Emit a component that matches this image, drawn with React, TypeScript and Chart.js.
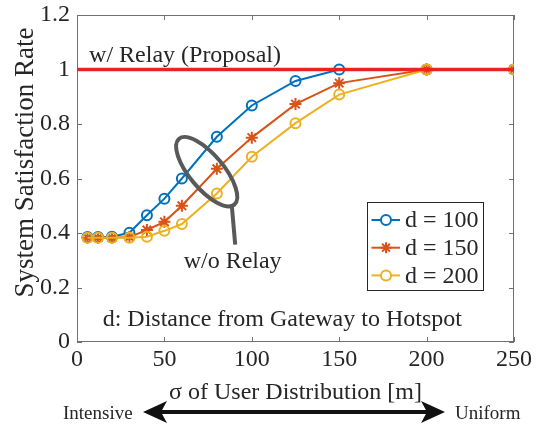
import React, { useEffect, useRef } from "react";
import { Chart, registerables } from "chart.js";

Chart.register(...registerables);

// ---------- data ----------
const sigma = [6, 12, 20, 30, 40, 50, 60, 80, 100, 125, 150, 200, 250];
const rateD100 = [0.385, 0.385, 0.386, 0.401, 0.465, 0.526, 0.6, 0.753, 0.868, 0.958, 1.0, 1.0, 1.0];
const rateD150 = [0.383, 0.383, 0.383, 0.385, 0.411, 0.441, 0.5, 0.636, 0.75, 0.873, 0.95, 1.0, 1.0];
const rateD200 = [0.383, 0.383, 0.383, 0.383, 0.386, 0.408, 0.433, 0.545, 0.68, 0.803, 0.908, 1.0, 1.0];
const relaySigma = [0, 250];
const relayRate = [1, 1];
const seriesLabels = ["d = 100", "d = 150", "d = 200"];
const xTicks = [0, 50, 100, 150, 200, 250];
const yTicks = [0, 0.2, 0.4, 0.6, 0.8, 1, 1.2];
const yTickLabels = ["0", "0.2", "0.4", "0.6", "0.8", "1", "1.2"];
const xTitle = "σ of User Distribution [m]";
const yTitle = "System Satisfaction Rate";
const relayText = "w/ Relay (Proposal)";
const noRelayText = "w/o Relay";
const noteText = "d: Distance from Gateway to Hotspot";
const leftArrowText = "Intensive";
const rightArrowText = "Uniform";

// ---------- styles ----------
const FONT = "'Liberation Serif', 'Times New Roman', serif";
const TEXT = "#262626";
const AXIS = "#707070";
const BLUE = "#0072BD";
const ORANGE = "#D95319";
const YELLOW = "#EDB120";
const RED = "#EE2020";
const GRAYMARK = "#595959";

const toPts = (xs: number[], ys: number[]) => xs.map((x, i) => ({ x, y: ys[i] }));

const decorPlugin = {
  id: "decor",
  beforeDatasetsDraw(chart: any) {
    const { ctx, chartArea: a, scales } = chart;
    ctx.save();
    ctx.strokeStyle = AXIS;
    ctx.lineWidth = 1;
    ctx.strokeRect(a.left + 0.5, a.top + 0.5, a.right - a.left - 1, a.bottom - a.top - 1);
    const tl = 5;
    ctx.beginPath();
    for (const v of xTicks) {
      const px = Math.round(scales.x.getPixelForValue(v)) + 0.5;
      ctx.moveTo(px, a.bottom);
      ctx.lineTo(px, a.bottom - tl);
      ctx.moveTo(px, a.top);
      ctx.lineTo(px, a.top + tl);
    }
    for (const v of yTicks) {
      const py = Math.round(scales.y.getPixelForValue(v)) + 0.5;
      ctx.moveTo(a.left, py);
      ctx.lineTo(a.left + tl, py);
      ctx.moveTo(a.right, py);
      ctx.lineTo(a.right - tl, py);
    }
    ctx.stroke();
    // y axis title
    ctx.fillStyle = TEXT;
    ctx.font = `27px ${FONT}`;
    ctx.textAlign = "center";
    ctx.textBaseline = "middle";
    ctx.translate(26, (a.top + a.bottom) / 2 - 16);
    ctx.rotate(-Math.PI / 2);
    ctx.fillText(yTitle, 0, 0);
    ctx.restore();
  },
  afterDatasetsDraw(chart: any) {
    const { ctx, scales } = chart;
    const X = (v: number) => scales.x.getPixelForValue(v);
    const Y = (v: number) => scales.y.getPixelForValue(v);
    ctx.save();
    ctx.fillStyle = TEXT;
    ctx.font = `24px ${FONT}`;
    ctx.textBaseline = "alphabetic";
    ctx.textAlign = "left";
    ctx.fillText(relayText, X(6.9), Y(1.028));
    ctx.fillText(noRelayText, X(61), Y(0.27));
    ctx.fillText(noteText, X(14.7), Y(0.059));

    // ellipse + pointer
    const cx = X(74.2);
    const cy = Y(0.625);
    ctx.strokeStyle = GRAYMARK;
    ctx.lineWidth = 4;
    ctx.beginPath();
    ctx.ellipse(cx, cy, 43, 17, (50 * Math.PI) / 180, 0, Math.PI * 2);
    ctx.stroke();
    ctx.beginPath();
    ctx.moveTo(cx + 25, cy + 33);
    ctx.lineTo(cx + 28.5, cy + 73);
    ctx.stroke();
    ctx.restore();
  },
  afterDraw(chart: any) {
    const { ctx, chartArea: a, data } = chart;
    ctx.save();
    // legend box
    const bw = 116;
    const bh = 88;
    const bx = a.right - 31 - bw;
    const by = a.bottom - 52 - bh;
    ctx.fillStyle = "#ffffff";
    ctx.fillRect(bx, by, bw, bh);
    ctx.strokeStyle = TEXT;
    ctx.lineWidth = 1;
    ctx.strokeRect(bx + 0.5, by + 0.5, bw, bh);
    const seriesSets = data.datasets.slice(1);
    seriesSets.forEach((ds: any, i: number) => {
      const ry = by + 18 + i * 27.7;
      ctx.strokeStyle = ds.borderColor;
      ctx.lineWidth = 2;
      ctx.beginPath();
      ctx.moveTo(bx + 4.5, ry);
      ctx.lineTo(bx + 33, ry);
      ctx.stroke();
      const mx = bx + 19;
      ctx.beginPath();
      if (ds.pointStyle === "star") {
        const r = 5.5;
        ctx.moveTo(mx - r, ry);
        ctx.lineTo(mx + r, ry);
        ctx.moveTo(mx, ry - r);
        ctx.lineTo(mx, ry + r);
        const d = r * 0.707;
        ctx.moveTo(mx - d, ry - d);
        ctx.lineTo(mx + d, ry + d);
        ctx.moveTo(mx - d, ry + d);
        ctx.lineTo(mx + d, ry - d);
      } else {
        ctx.arc(mx, ry, 5, 0, Math.PI * 2);
        ctx.fillStyle = "#ffffff";
        ctx.fill();
      }
      ctx.stroke();
      ctx.fillStyle = TEXT;
      ctx.font = `24px ${FONT}`;
      ctx.textBaseline = "middle";
      ctx.textAlign = "left";
      ctx.fillText(seriesLabels[i], bx + 38, ry + 1);
    });

    // bottom arrow
    const ay = 412;
    const x0 = 143;
    const x1 = 445;
    const hl = 24;
    const hw = 11;
    ctx.fillStyle = "#111111";
    ctx.strokeStyle = "#111111";
    ctx.lineWidth = 4;
    ctx.beginPath();
    ctx.moveTo(x0 + 10, ay);
    ctx.lineTo(x1 - 10, ay);
    ctx.stroke();
    ctx.beginPath();
    ctx.moveTo(x0, ay);
    ctx.lineTo(x0 + hl, ay - hw);
    ctx.lineTo(x0 + hl - 6, ay);
    ctx.lineTo(x0 + hl, ay + hw);
    ctx.closePath();
    ctx.fill();
    ctx.beginPath();
    ctx.moveTo(x1, ay);
    ctx.lineTo(x1 - hl, ay - hw);
    ctx.lineTo(x1 - hl + 6, ay);
    ctx.lineTo(x1 - hl, ay + hw);
    ctx.closePath();
    ctx.fill();
    ctx.fillStyle = TEXT;
    ctx.font = `19px ${FONT}`;
    ctx.textBaseline = "alphabetic";
    ctx.textAlign = "left";
    ctx.fillText(leftArrowText, 63, 419);
    ctx.fillText(rightArrowText, 455, 419);
    ctx.restore();
  },
};

export default function App() {
  const ref = useRef<HTMLCanvasElement | null>(null);
  useEffect(() => {
    if (!ref.current) return;
    const tickFont = { family: FONT, size: 24 };
    const yTickFont = { family: FONT, size: 24, lineHeight: 0.6 };
    const chart = new Chart(ref.current, {
      type: "line",
      data: {
        datasets: [
          {
            label: "w/ Relay",
            data: toPts(relaySigma, relayRate),
            borderColor: RED,
            borderWidth: 3.5,
            pointRadius: 0,
            order: 0,
          },
          {
            label: seriesLabels[0],
            data: toPts(sigma, rateD100),
            borderColor: BLUE,
            borderWidth: 2,
            pointStyle: "circle",
            pointRadius: 5,
            pointBorderWidth: 2,
            pointBorderColor: BLUE,
            pointBackgroundColor: "rgba(0,0,0,0)",
            order: 3,
          },
          {
            label: seriesLabels[1],
            data: toPts(sigma, rateD150),
            borderColor: ORANGE,
            borderWidth: 2,
            pointStyle: "star",
            pointRadius: 6,
            pointBorderWidth: 2,
            pointBorderColor: ORANGE,
            pointBackgroundColor: ORANGE,
            order: 2,
          },
          {
            label: seriesLabels[2],
            data: toPts(sigma, rateD200),
            borderColor: YELLOW,
            borderWidth: 2,
            pointStyle: "circle",
            pointRadius: 5,
            pointBorderWidth: 2,
            pointBorderColor: YELLOW,
            pointBackgroundColor: "rgba(0,0,0,0)",
            order: 1,
          },
        ] as any,
      },
      options: {
        animation: false,
        responsive: false,
        events: [],
        layout: { padding: { left: 0, top: 15, right: 28, bottom: 0 } },
        plugins: { legend: { display: false }, tooltip: { enabled: false } },
        scales: {
          x: {
            type: "linear",
            min: 0,
            max: 250,
            afterFit: (s: any) => {
              s.height = 82;
            },
            afterBuildTicks: (s: any) => {
              s.ticks = xTicks.map((v) => ({ value: v }));
            },
            grid: { display: false, drawTicks: false },
            border: { display: false },
            ticks: {
              font: tickFont,
              color: TEXT,
              padding: 3,
              maxRotation: 0,
              autoSkip: false,
              callback: (v: any) => String(v),
            },
            title: {
              display: true,
              text: xTitle,
              font: tickFont,
              color: TEXT,
              padding: { top: 0, bottom: 17 },
            },
          },
          y: {
            type: "linear",
            min: 0,
            max: 1.2,
            afterFit: (s: any) => {
              s.width = 77;
            },
            afterBuildTicks: (s: any) => {
              s.ticks = yTicks.map((v) => ({ value: v }));
            },
            grid: { display: false, drawTicks: false },
            border: { display: false },
            ticks: {
              font: yTickFont,
              color: TEXT,
              padding: 7,
              autoSkip: false,
              callback: (_v: any, i: number) => yTickLabels[i],
            },
            title: { display: false },
          },
        },
      },
      plugins: [decorPlugin],
    } as any);
    return () => chart.destroy();
  }, []);
  return (
    <div style={{ position: "fixed", left: 0, top: 0, width: 542, height: 424, background: "#fff" }}>
      <canvas ref={ref} width={542} height={424} style={{ display: "block", width: 542, height: 424 }} />
    </div>
  );
}
